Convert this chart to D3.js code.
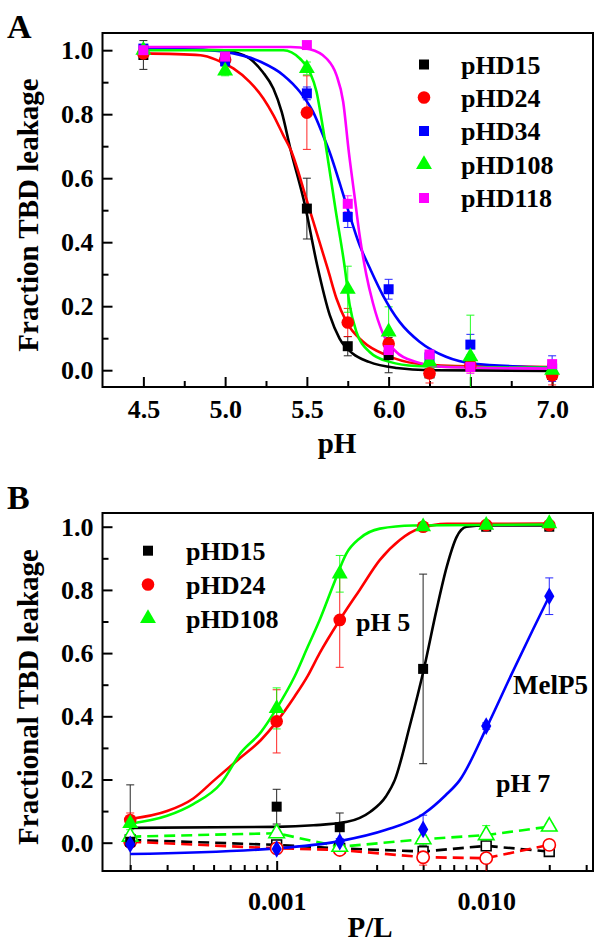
<!DOCTYPE html>
<html><head><meta charset="utf-8">
<script src="https://cdn.jsdelivr.net/npm/d3@7"></script>
<style>
body{margin:0;background:#fff}
svg{display:block}
text{font-family:"Liberation Serif","Times New Roman",serif;font-weight:bold;fill:#000}
</style>
</head><body><svg id="c" width="604" height="949"></svg>
<script>
// ---------------- Panel A data ----------------
const phLevels = [4.5, 5.0, 5.5, 5.75, 6.0, 6.25, 6.5, 7.0];
const namesA = ["pHD15", "pHD24", "pHD34", "pHD108", "pHD118"];
const colorsA = ["#000000", "#ff0000", "#0000ff", "#00ff00", "#ff00ff"];
const shapesA = ["square", "circle", "square", "triangle", "square"];

const leakA_pHD15  = [0.985, 0.975, 0.505, 0.075, 0.047, -0.010, 0.025, -0.015];
const leakA_pHD24  = [0.990, 0.970, 0.805, 0.149, 0.083, -0.010, 0.015, -0.016];
const leakA_pHD34  = [1.005, 0.965, 0.865, 0.479, 0.253, 0.040, 0.080, 0.005];
const leakA_pHD108 = [1.000, 0.935, 0.943, 0.253, 0.120, 0.026, 0.042, 0.000];
const leakA_pHD118 = [1.000, 0.980, 1.016, 0.520, 0.063, 0.049, 0.010, 0.019];

const errA_pHD15  = [0.045, 0.010, 0.095, 0.030, 0.055, 0.010, 0.020, 0.015];
const errA_pHD24  = [0.010, 0.010, 0.115, 0.044, 0.030, 0.030, 0.020, 0.030];
const errA_pHD34  = [0.010, 0.010, 0.020, 0.033, 0.031, 0.010, 0.032, 0.040];
const errA_pHD108 = [0.010, 0.015, 0.020, 0.072, 0.078, 0.010, 0.130, 0.010];
const errA_pHD118 = [0.010, 0.010, 0.005, 0.025, 0.020, 0.010, 0.020, 0.010];

// fitted curves as [pH, fraction]
const fitA_pHD15 = [[4.5,1.003],[5.0,1.0],[5.05,0.995],[5.15,0.974],[5.23,0.932],[5.295,0.88],[5.346,0.807],[5.40,0.69],[5.488,0.516],[5.563,0.328],[5.64,0.172],[5.70,0.099],[5.78,0.052],[5.88,0.026],[6.05,0.007],[6.25,0.0],[7.0,-0.002]];
const fitA_pHD24 = [[4.5,0.99],[4.85,0.984],[4.95,0.969],[5.05,0.943],[5.15,0.901],[5.234,0.849],[5.295,0.797],[5.356,0.734],[5.40,0.69],[5.50,0.53],[5.63,0.3125],[5.681,0.224],[5.742,0.151],[5.844,0.089],[5.986,0.047],[6.168,0.021],[6.5,0.012],[7.0,0.01]];
const fitA_pHD34 = [[4.5,1.005],[4.9,1.0],[5.051,0.99],[5.22,0.963],[5.356,0.922],[5.457,0.87],[5.538,0.807],[5.599,0.734],[5.635,0.6875],[5.74,0.52],[5.823,0.39],[5.884,0.32],[5.965,0.234],[6.067,0.151],[6.189,0.089],[6.351,0.042],[6.514,0.021],[7.0,0.008]];
const fitA_pHD108 = [[4.5,1.0],[5.356,1.0],[5.457,0.974],[5.518,0.932],[5.559,0.87],[5.589,0.786],[5.62,0.6875],[5.676,0.50],[5.732,0.32],[5.762,0.203],[5.803,0.12],[5.884,0.057],[6.006,0.026],[6.17,0.013],[6.5,0.009],[7.0,0.008]];
const fitA_pHD118 = [[4.5,1.01],[5.4,1.01],[5.518,1.003],[5.62,0.974],[5.681,0.922],[5.722,0.839],[5.757,0.68],[5.79,0.55],[5.823,0.42],[5.863,0.30],[5.904,0.21],[5.965,0.115],[6.047,0.057],[6.168,0.026],[6.35,0.01],[7.0,0.005]];

const ticksA_x = [4.5, 5.0, 5.5, 6.0, 6.5, 7.0];
const minorA_x = [4.75, 5.25, 5.75, 6.25, 6.75];
const ticksY = [0.0, 0.2, 0.4, 0.6, 0.8, 1.0];
const minorY = [0.1, 0.3, 0.5, 0.7, 0.9];

// ---------------- Panel B data ----------------
const plRatios = [0.0002, 0.001, 0.002, 0.005, 0.01, 0.02];
const leakB_pHD15_pH5  = [0.003, 0.114, 0.049, 0.550, 1.000, 1.000];
const leakB_pHD24_pH5  = [0.072, 0.384, 0.705, 1.000, 1.005, 1.005];
const leakB_pHD108_pH5 = [0.061, 0.425, 0.851, 1.000, 1.005, 1.010];
const leakB_MelP5      = [-0.005, -0.020, 0.003, 0.042, 0.369, 0.780];
const errB_pHD15_pH5   = [0.180, 0.055, 0.045, 0.300, 0.005, 0.005];
const errB_pHD24_pH5   = [0.022, 0.100, 0.150, 0.005, 0.005, 0.005];
const errB_pHD108_pH5  = [0.020, 0.065, 0.058, 0.005, 0.005, 0.005];
const errB_MelP5       = [0.010, 0.015, 0.010, 0.045, 0.010, 0.058];

const leakB_pHD15_pH7  = [0.009, -0.007, -0.018, -0.028, -0.010, -0.028];
const leakB_pHD24_pH7  = [0.003, -0.018, -0.023, -0.046, -0.049, -0.007];
const leakB_pHD108_pH7 = [0.019, 0.030, -0.013, 0.011, 0.024, 0.051];
const errB_pHD15_pH7   = [0.020, 0.010, 0.010, 0.020, 0.010, 0.010];
const errB_pHD24_pH7   = [0.010, 0.010, 0.010, 0.025, 0.045, 0.010];
const errB_pHD108_pH7  = [0.010, 0.010, 0.010, 0.030, 0.030, 0.010];

const fitB_pHD15 = [[0.0002,0.047],[0.001,0.05],[0.0015,0.055],[0.00217,0.066],[0.0028,0.098],[0.00332,0.146],[0.00366,0.198],[0.00432,0.37],[0.00504,0.549],[0.00579,0.736],[0.00648,0.873],[0.00723,0.968],[0.00806,1.0],[0.01,1.004],[0.02,1.004]];
const fitB_pHD24 = [[0.0002,0.075],[0.0003,0.10],[0.0004,0.14],[0.000504,0.198],[0.000652,0.262],[0.000841,0.325],[0.001,0.383],[0.001216,0.462],[0.001407,0.528],[0.001604,0.60],[0.002,0.705],[0.00249,0.80],[0.00311,0.895],[0.00387,0.958],[0.00483,0.995],[0.0065,1.009],[0.02,1.01]];
const fitB_pHD108 = [[0.0002,0.06],[0.0003,0.085],[0.0004,0.122],[0.000543,0.188],[0.000675,0.285],[0.000841,0.35],[0.001,0.425],[0.001216,0.525],[0.001407,0.62],[0.001604,0.705],[0.00189,0.826],[0.00215,0.915],[0.00249,0.963],[0.00311,0.994],[0.00448,1.004],[0.02,1.007]];
const fitB_MelP5 = [[0.0002,-0.036],[0.001,-0.018],[0.002,0.005],[0.0033,0.04],[0.005,0.09],[0.0064,0.15],[0.00748,0.198],[0.01012,0.369],[0.01327,0.536],[0.01668,0.673],[0.02,0.78]];

const ticksB_x = [0.001, 0.01];
const minorB_x = [0.0002,0.0003,0.0004,0.0005,0.0006,0.0007,0.0008,0.0009,0.002,0.003,0.004,0.005,0.006,0.007,0.008,0.009,0.02,0.03];

// ---------------- drawing ----------------
const svg = d3.select("#c");
const FS_TICK = 26, FS_TITLE = 29, FS_LEG = 26;

function symbolPath(shape, size) {
  const t = shape === "square" ? d3.symbolSquare : shape === "circle" ? d3.symbolCircle :
            shape === "triangle" ? d3.symbolTriangle : d3.symbolDiamond;
  return d3.symbol().type(t).size(size)();
}
const sizeOf = s => s === "square" ? 100 : s === "circle" ? 125 : s === "triangle" ? 110 : 90;

function frameAxes(g, x, y, box, xt, xminor, xfmt, yt, yminor, xPad, clipId) {
  g.append("defs").append("clipPath").attr("id", clipId)
    .append("rect").attr("x", box.l).attr("y", box.t).attr("width", box.r - box.l).attr("height", box.b - box.t);
  const ax = g.append("g").attr("transform", `translate(0,${box.b})`)
    .call(d3.axisBottom(x).tickValues(xt).tickFormat(xfmt).tickSize(-10).tickPadding(xPad));
  const axm = g.append("g").attr("transform", `translate(0,${box.b})`)
    .call(d3.axisBottom(x).tickValues(xminor).tickFormat("").tickSize(-6));
  const ay = g.append("g").attr("transform", `translate(${box.l},0)`)
    .call(d3.axisLeft(y).tickValues(yt).tickFormat(d3.format(".1f")).tickSize(-10).tickPadding(9));
  const aym = g.append("g").attr("transform", `translate(${box.l},0)`)
    .call(d3.axisLeft(y).tickValues(yminor).tickFormat("").tickSize(-6));
  [ax, axm, ay, aym].forEach(a => {
    a.select(".domain").remove();
    a.selectAll("line").attr("stroke", "#000").attr("stroke-width", 2);
    a.selectAll("text").style("font-size", FS_TICK + "px").attr("fill", "#000")
      .style("font-family", '"Liberation Serif",serif').style("font-weight", "bold");
  });
  g.append("rect").attr("x", box.l).attr("y", box.t).attr("width", box.r - box.l).attr("height", box.b - box.t)
    .attr("fill", "none").attr("stroke", "#000").attr("stroke-width", 2);
}

function errBars(g, x, y, xs, vals, errs, color, clipId) {
  const eg = g.append("g").attr("clip-path", `url(#${clipId})`).attr("stroke", color).attr("stroke-width", 1).attr("opacity", 0.85);
  xs.forEach((xv, i) => {
    if (errs[i] <= 0.006) return;
    const px = x(xv), y1 = y(vals[i] + errs[i]), y2 = y(vals[i] - errs[i]);
    eg.append("line").attr("x1", px).attr("x2", px).attr("y1", y1).attr("y2", y2);
    eg.append("line").attr("x1", px - 4).attr("x2", px + 4).attr("y1", y1).attr("y2", y1);
    eg.append("line").attr("x1", px - 4).attr("x2", px + 4).attr("y1", y2).attr("y2", y2);
  });
}

function markers(g, x, y, xs, vals, color, shape, open) {
  const sz = sizeOf(shape) * (open ? 0.95 : 1);
  g.append("g").selectAll("path").data(xs).join("path")
    .attr("d", symbolPath(shape, sz))
    .attr("transform", (d, i) => `translate(${x(d)},${y(vals[i])})`)
    .attr("fill", open ? "#fff" : color).attr("stroke", color).attr("stroke-width", open ? 1.6 : 0);
}

function curve(g, x, y, pts, color, clipId, dash) {
  g.append("path").datum(pts).attr("clip-path", `url(#${clipId})`)
    .attr("d", d3.line().x(d => x(d[0])).y(d => y(d[1])).curve(dash ? d3.curveLinear : d3.curveMonotoneX))
    .attr("fill", "none").attr("stroke", color).attr("stroke-width", 2.6)
    .attr("stroke-dasharray", dash ? "11,6" : null);
}

// ---------- Panel A ----------
(function () {
  const box = { l: 102.5, r: 593, t: 33, b: 387 };
  const x = d3.scaleLinear().domain([4.25, 7.25]).range([box.l, box.r]);
  const y = d3.scaleLinear().domain([-0.0525, 1.0537]).range([box.b, box.t]);
  const g = svg.append("g");
  frameAxes(g, x, y, box, ticksA_x, minorA_x, d3.format(".1f"), ticksY, minorY, 13, "clipA");

  const vals = [leakA_pHD15, leakA_pHD24, leakA_pHD34, leakA_pHD108, leakA_pHD118];
  const errs = [errA_pHD15, errA_pHD24, errA_pHD34, errA_pHD108, errA_pHD118];
  const fits = [fitA_pHD15, fitA_pHD24, fitA_pHD34, fitA_pHD108, fitA_pHD118];
  namesA.forEach((n, i) => errBars(g, x, y, phLevels, vals[i], errs[i], colorsA[i], "clipA"));
  namesA.forEach((n, i) => curve(g, x, y, fits[i], colorsA[i], "clipA", false));
  namesA.forEach((n, i) => markers(g, x, y, phLevels, vals[i], colorsA[i], shapesA[i], false));

  // legend
  const legY = [64.5, 97.5, 131, 164.5, 198];
  namesA.forEach((n, i) => {
    g.append("path").attr("d", symbolPath(shapesA[i], sizeOf(shapesA[i])))
      .attr("transform", `translate(424,${legY[i]})`).attr("fill", colorsA[i]);
    g.append("text").attr("x", 461).attr("y", legY[i] + 9).style("font-size", FS_LEG + "px").text(n);
  });

  g.append("text").attr("x", 337).attr("y", 453).attr("text-anchor", "middle").style("font-size", FS_TITLE + "px").text("pH");
  g.append("text").attr("transform", "translate(38,215) rotate(-90)").attr("text-anchor", "middle")
    .style("font-size", FS_TITLE + "px").text("Fraction TBD leakage");
  g.append("text").attr("x", 7).attr("y", 38).style("font-size", "34px").text("A");
})();

// ---------- Panel B ----------
(function () {
  const box = { l: 102.5, r: 593, t: 513, b: 871 };
  const x = d3.scaleLog().domain([1.4748e-4, 0.03234]).range([box.l, box.r]);
  const y = d3.scaleLinear().domain([-0.0896, 1.0434]).range([box.b, box.t]);
  const g = svg.append("g");
  frameAxes(g, x, y, box, ticksB_x, minorB_x, d3.format(".3f"), ticksY, minorY, 21, "clipB");

  const p7 = [
    [leakB_pHD15_pH7, errB_pHD15_pH7, "#000000", "square"],
    [leakB_pHD24_pH7, errB_pHD24_pH7, "#ff0000", "circle"],
    [leakB_pHD108_pH7, errB_pHD108_pH7, "#00ff00", "triangle"]
  ];
  const p5 = [
    [leakB_pHD15_pH5, errB_pHD15_pH5, "#000000", "square", fitB_pHD15],
    [leakB_pHD24_pH5, errB_pHD24_pH5, "#ff0000", "circle", fitB_pHD24],
    [leakB_pHD108_pH5, errB_pHD108_pH5, "#00ff00", "triangle", fitB_pHD108],
    [leakB_MelP5, errB_MelP5, "#0000ff", "diamond", fitB_MelP5]
  ];
  p7.forEach(s => errBars(g, x, y, plRatios, s[0], s[1], s[2], "clipB"));
  p5.forEach(s => errBars(g, x, y, plRatios, s[0], s[1], s[2], "clipB"));
  p7.forEach(s => curve(g, x, y, plRatios.map((v, i) => [v, s[0][i]]), s[2], "clipB", true));
  p5.forEach(s => curve(g, x, y, s[4], s[2], "clipB", false));
  p7.forEach(s => markers(g, x, y, plRatios, s[0], s[2], s[3], true));
  p5.forEach(s => markers(g, x, y, plRatios, s[0], s[2], s[3], false));

  const legNames = ["pHD15", "pHD24", "pHD108"];
  const legY = [550.7, 584.5, 618.5];
  legNames.forEach((n, i) => {
    g.append("path").attr("d", symbolPath(p5[i][3], sizeOf(p5[i][3])))
      .attr("transform", `translate(148,${legY[i]})`).attr("fill", p5[i][2]);
    g.append("text").attr("x", 186).attr("y", legY[i] + 9).style("font-size", FS_LEG + "px").text(n);
  });

  g.append("text").attr("x", 356).attr("y", 631).style("font-size", "26px").text("pH 5");
  g.append("text").attr("x", 513).attr("y", 694).style("font-size", "27px").text("MelP5");
  g.append("text").attr("x", 496).attr("y", 792).style("font-size", "26px").text("pH 7");

  g.append("text").attr("x", 370).attr("y", 937).attr("text-anchor", "middle").style("font-size", FS_TITLE + "px").text("P/L");
  g.append("text").attr("transform", "translate(38,697) rotate(-90)").attr("text-anchor", "middle")
    .style("font-size", FS_TITLE + "px").text("Fractional TBD leakage");
  g.append("text").attr("x", 7).attr("y", 509).style("font-size", "34px").text("B");
})();
</script></body></html>
